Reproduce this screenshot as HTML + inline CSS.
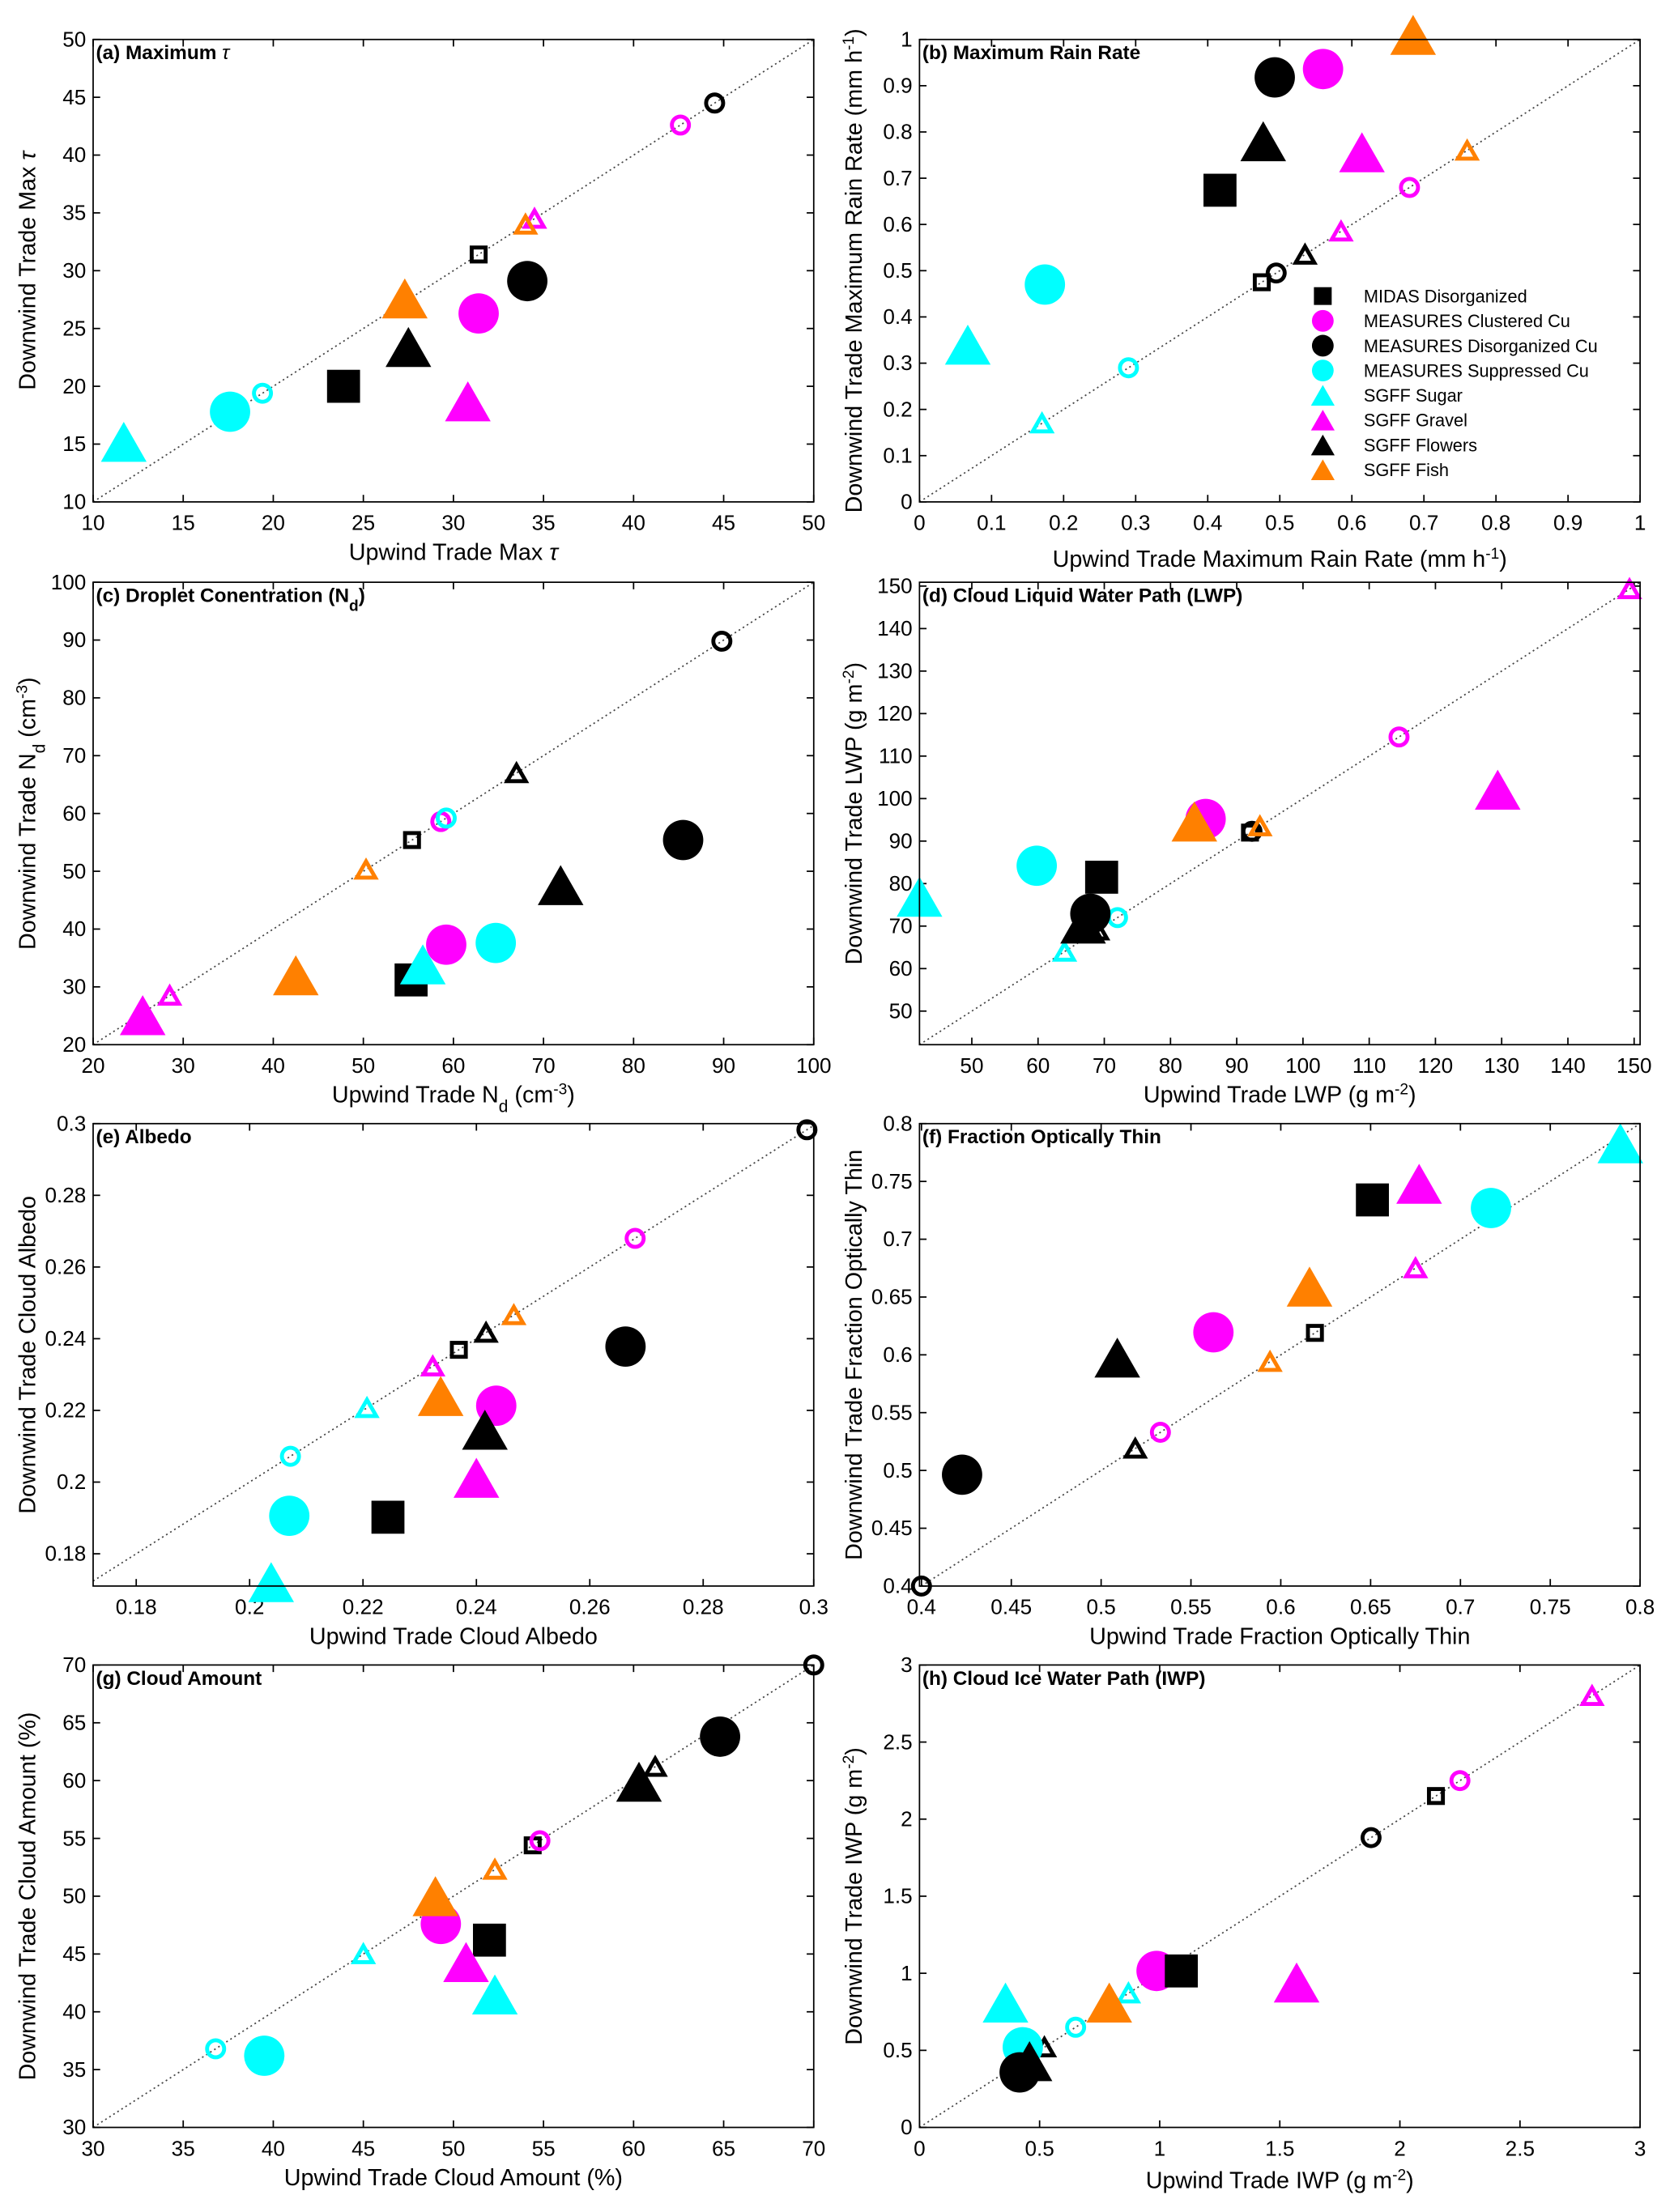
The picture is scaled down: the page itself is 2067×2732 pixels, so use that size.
<!DOCTYPE html>
<html><head><meta charset="utf-8">
<style>
html,body{margin:0;padding:0;background:#fff;}
svg{display:block;font-family:"Liberation Sans",sans-serif;}
</style></head>
<body>
<svg id="fig" width="2067" height="2732" viewBox="0 0 1187 1569" xmlns="http://www.w3.org/2000/svg"></svg>
<script>
const categories = ["MIDAS Disorganized","MEASURES Clustered Cu","MEASURES Disorganized Cu","MEASURES Suppressed Cu","SGFF Sugar","SGFF Gravel","SGFF Flowers","SGFF Fish"];
const aUp   = [23.9,31.4,34.1,17.6,11.7,30.8,27.5,27.3];
const aDown = [20.0,26.3,29.1,17.8,15.2,18.7,23.4,27.6];
const aDiag = [31.4,42.6,44.5,19.4,null,34.5,27.5,34];
const bUp   = [0.417,0.56,0.493,0.174,0.067,0.614,0.477,0.685];
const bDown = [0.674,0.936,0.918,0.47,0.34,0.756,0.78,1.01];
const bDiag = [0.475,0.68,0.495,0.29,0.17,0.585,0.535,0.76];
const cUp   = [55.3,59.2,85.5,64.7,56.6,25.5,71.9,42.5];
const cDown = [31.2,37.3,55.4,37.6,33.9,25.1,47.6,32];
const cDiag = [55.4,58.6,89.8,59.2,null,28.5,67,50.3];
const dUp   = [69.6,85.3,67.9,59.8,42.1,129.4,66.8,83.6];
const dDown = [81.5,95.2,72.9,84.2,76.9,102.1,70.6,94.6];
const dDiag = [92,114.5,92.3,72,64,149.3,69,93.5];
const eUp   = [0.2244,0.2435,0.2663,0.207,0.2038,0.240,0.2415,0.2337];
const eDown = [0.1902,0.2213,0.2378,0.1906,0.1721,0.2012,0.2146,0.224];
const eDiag = [0.2369,0.268,0.2983,0.2072,0.2207,0.2323,0.2417,0.2466];
const fUp   = [0.651,0.5625,0.4226,0.717,0.789,0.677,0.509,0.616];
const fDown = [0.734,0.6195,0.4963,0.727,0.783,0.748,0.5976,0.659];
const fDiag = [0.619,0.533,0.4,null,null,0.675,0.519,0.594];
const gUp   = [52,49.3,64.8,39.5,52.3,50.7,60.3,49];
const gDown = [46.2,47.6,63.8,36.2,41.5,44.3,59.9,50];
const gDiag = [54.4,54.8,70,36.8,45,49.3,61.2,52.3];
const hUp   = [1.09,0.987,0.417,0.43,0.358,1.57,0.458,0.79];
const hDown = [1.015,1.015,0.357,0.52,0.81,0.94,0.43,0.81];
const hDiag = [2.15,2.25,1.88,0.65,0.87,2.8,0.52,1.02];
const aTicks=[10,15,20,25,30,35,40,45,50];
const bTicks=[0,0.1,0.2,0.3,0.4,0.5,0.6,0.7,0.8,0.9,1];
const cTicks=[20,30,40,50,60,70,80,90,100];
const dTicks=[50,60,70,80,90,100,110,120,130,140,150];
const eTicks=[0.18,0.2,0.22,0.24,0.26,0.28,0.3];
const fTicks=[0.4,0.45,0.5,0.55,0.6,0.65,0.7,0.75,0.8];
const gTicks=[30,35,40,45,50,55,60,65,70];
const hTicks=[0,0.5,1,1.5,2,2.5,3];

const shapes=["square","circle","circle","circle","tri","tri","tri","tri"];
const colors=["#000","#ff00ff","#000","#00ffff","#00ffff","#ff00ff","#000","#ff8000"];
const NS="http://www.w3.org/2000/svg";
const svg=document.getElementById('fig');
function mk(tag,attrs,parent){const e=document.createElementNS(NS,tag);for(const k in attrs)e.setAttribute(k,attrs[k]);(parent||svg).appendChild(e);return e;}

const supm='<tspan baseline-shift="super" font-size="11">-1</tspan>';
const panels=[
 {id:'a',L:66,T:28,x0:10,x1:50,y0:10,y1:50,xt:aTicks,yt:aTicks,up:aUp,dn:aDown,dg:aDiag,xo:0,title:'(a) Maximum <tspan font-style="italic" font-weight="normal">τ</tspan>',xl:'Upwind Trade Max <tspan font-style="italic">τ</tspan>',yl:'Downwind Trade Max <tspan font-style="italic">τ</tspan>'},
 {id:'b',L:652,T:28,x0:0,x1:1,y0:0,y1:1,xt:bTicks,yt:bTicks,up:bUp,dn:bDown,dg:bDiag,xo:5,title:'(b) Maximum Rain Rate',xl:'Upwind Trade Maximum Rain Rate (mm h'+supm+')',yl:'Downwind Trade Maximum Rain Rate (mm h'+supm+')'},
 {id:'c',L:66,T:413,x0:20,x1:100,y0:20,y1:100,xt:cTicks,yt:cTicks,up:cUp,dn:cDown,dg:cDiag,xo:0,title:'(c) Droplet Conentration (N<tspan baseline-shift="sub" font-size="11">d</tspan>)',xl:'Upwind Trade N<tspan baseline-shift="sub" font-size="12">d</tspan> (cm<tspan baseline-shift="super" font-size="11">-3</tspan>)',yl:'Downwind Trade N<tspan baseline-shift="sub" font-size="12">d</tspan> (cm<tspan baseline-shift="super" font-size="11">-3</tspan>)'},
 {id:'d',L:652,T:413,x0:42.1,x1:150.9,y0:42.1,y1:150.9,xt:dTicks,yt:dTicks,up:dUp,dn:dDown,dg:dDiag,xo:0,title:'(d) Cloud Liquid Water Path (LWP)',xl:'Upwind Trade LWP (g m<tspan baseline-shift="super" font-size="11">-2</tspan>)',yl:'Downwind Trade LWP (g m<tspan baseline-shift="super" font-size="11">-2</tspan>)'},
 {id:'e',L:66,T:797,x0:0.1724,x1:0.2995,y0:0.171,y1:0.300,xt:eTicks,yt:eTicks,up:eUp,dn:eDown,dg:eDiag,xo:0,title:'(e) Albedo',xl:'Upwind Trade Cloud Albedo',yl:'Downwind Trade Cloud Albedo'},
 {id:'f',L:652,T:797,x0:0.3989,x1:0.8,y0:0.4,y1:0.8,xt:fTicks,yt:fTicks,up:fUp,dn:fDown,dg:fDiag,xo:0,title:'(f) Fraction Optically Thin',xl:'Upwind Trade Fraction Optically Thin',yl:'Downwind Trade Fraction Optically Thin'},
 {id:'g',L:66,T:1181,x0:30,x1:70,y0:30,y1:70,xt:gTicks,yt:gTicks,up:gUp,dn:gDown,dg:gDiag,xo:0,title:'(g) Cloud Amount',xl:'Upwind Trade Cloud Amount (%)',yl:'Downwind Trade Cloud Amount (%)'},
 {id:'h',L:652,T:1181,x0:0,x1:3,y0:0,y1:3,xt:hTicks,yt:hTicks,up:hUp,dn:hDown,dg:hDiag,xo:2,title:'(h) Cloud Ice Water Path (IWP)',xl:'Upwind Trade IWP (g m<tspan baseline-shift="super" font-size="11">-2</tspan>)',yl:'Downwind Trade IWP (g m<tspan baseline-shift="super" font-size="11">-2</tspan>)'}
];
const W=511,H=328;
function fmt(v){return String(parseFloat(v.toFixed(3)));}
function marker(g,shape,cx,cy,size,color,open,name){
  let e;
  const st=open?{fill:'none',stroke:color,'stroke-width':2.8}:{fill:color,stroke:'none'};
  if(shape==='circle'){e=mk('circle',Object.assign({cx:cx,cy:cy,r:size*0.55},st),g);}
  else if(shape==='square'){const s=size*0.9;e=mk('rect',Object.assign({x:cx-s/2,y:cy-s/2,width:s,height:s},st),g);}
  else{const w=size*1.2,h=size*1.05;e=mk('polygon',Object.assign({points:(cx-w/2)+','+(cy+h/2)+' '+(cx+w/2)+','+(cy+h/2)+' '+cx+','+(cy-h/2)},st),g);}
  
  
  return e;
}
panels.forEach(p=>{
  const g=mk('g',{});
  
  
  const sx=v=>p.L+(v-p.x0)/(p.x1-p.x0)*W;
  const sy=v=>p.T+H-(v-p.y0)/(p.y1-p.y0)*H;
  const lo=Math.max(p.x0,p.y0),hi=Math.min(p.x1,p.y1);
  const dl=mk('line',{x1:sx(lo),y1:sy(lo),x2:sx(hi),y2:sy(hi),stroke:'#444','stroke-width':1,'stroke-dasharray':'1.2,2.2'},g);
  
  
  p.xt.forEach(t=>{const x=sx(t); if(x<p.L-1||x>p.L+W+8)return;
    const xc=Math.min(x,p.L+W);
    mk('line',{x1:xc,y1:p.T+H,x2:xc,y2:p.T+H-5,stroke:'#000','stroke-width':1},g);
    mk('line',{x1:xc,y1:p.T,x2:xc,y2:p.T+5,stroke:'#000','stroke-width':1},g);
    const tl=mk('text',{x:xc,y:p.T+H+20,'text-anchor':'middle','font-size':15},g);tl.textContent=fmt(t);
    
    
  });
  p.yt.forEach(t=>{const y=sy(t); if(y<p.T-1||y>p.T+H+1)return;
    mk('line',{x1:p.L,y1:y,x2:p.L+5,y2:y,stroke:'#000','stroke-width':1},g);
    mk('line',{x1:p.L+W,y1:y,x2:p.L+W-5,y2:y,stroke:'#000','stroke-width':1},g);
    const tl=mk('text',{x:p.L-5,y:y+5,'text-anchor':'end','font-size':15},g);tl.textContent=fmt(t);
    
    
  });
  const mg=mk('g',{},g);
  p.dg.forEach((v,i)=>{if(v==null)return; marker(mg,shapes[i],sx(v),sy(v),11,colors[i],true,'diag-marker-'+i);});
  const order=[3,1,2,0,4,5,6,7];
  order.forEach(i=>{marker(mg,shapes[i],sx(p.up[i]),sy(p.dn[i]),shapes[i]==='tri'?27:26,colors[i],false,'point-'+i);});
  const box=mk('rect',{x:p.L,y:p.T,width:W,height:H,fill:'none',stroke:'#000','stroke-width':1},g);
  
  
  const tt=mk('text',{x:p.L+2,y:p.T+14,'font-size':14,'font-weight':'bold'},g);tt.innerHTML=p.title;
  
  
  const xl=mk('text',{x:p.L+W/2,y:p.T+H+41+p.xo,'text-anchor':'middle','font-size':16.5},g);xl.innerHTML=p.xl;
  
  
  const yx=p.L-41;const yy=p.T+H/2;
  const yl=mk('text',{x:yx,y:yy,'text-anchor':'middle','font-size':16.5,transform:'rotate(-90 '+yx+' '+yy+')'},g);yl.innerHTML=p.yl;
  
  
});
const lg=mk('g',{});


categories.forEach((c,i)=>{
  const y=210+i*17.6;
  marker(lg,shapes[i],938,y,14,colors[i],false,'legend-marker-'+i);
  const t=mk('text',{x:967,y:y+4.5,'font-size':12.5},lg);t.textContent=c;
  
  
});
</script>
</body></html>
